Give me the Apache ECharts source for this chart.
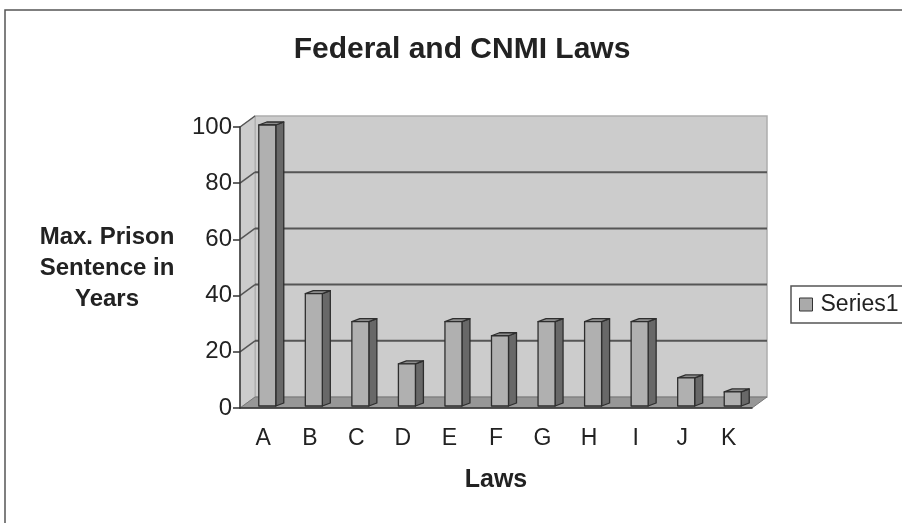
<!DOCTYPE html>
<html>
<head>
<meta charset="utf-8">
<script src="https://cdn.jsdelivr.net/npm/echarts@6/dist/echarts.min.js"></script>
<style>html,body{margin:0;padding:0;background:#fff;}#c{width:902px;height:523px;}</style>
</head>
<body>
<div id="c"></div>
<script>
const categories = ['A','B','C','D','E','F','G','H','I','J','K'];
const values = [100, 40, 30, 15, 30, 25, 30, 30, 30, 10, 5];
const yTicks = [0, 20, 40, 60, 80, 100];
const seriesName = 'Series1';
const chartTitle = 'Federal and CNMI Laws';
const yTitle = 'Max. Prison\nSentence in\nYears';
const xTitle = 'Laws';

const FONT = '"Liberation Sans", Arial, sans-serif';
const WALL_DX = 15, WALL_DY = -11;
const BAR_W = 17, BAR_DX = 8, BAR_DY = -3, BAR_SX = 4, BAR_SY = -2;

const chart = echarts.init(document.getElementById('c'), null, {renderer: 'canvas'});

function renderWalls(params, api) {
  const band = api.size([1, 0])[0];
  const x0 = api.coord([0, 0])[0] - band / 2;
  const x1 = api.coord([categories.length - 1, 0])[0] + band / 2;
  const y0 = api.coord([0, yTicks[0]])[1];
  const yT = api.coord([0, yTicks[yTicks.length - 1]])[1];
  const dx = WALL_DX, dy = WALL_DY;
  const children = [];
  children.push({type: 'polygon', shape: {points: [[x0+dx, yT+dy],[x1+dx, yT+dy],[x1+dx, y0+dy],[x0+dx, y0+dy]]},
    style: {fill: '#cccccc', stroke: '#adadad', lineWidth: 1.5}});
  children.push({type: 'polygon', shape: {points: [[x0, yT],[x0+dx, yT+dy],[x0+dx, y0+dy],[x0, y0]]},
    style: {fill: '#cccccc', stroke: '#adadad', lineWidth: 1}});
  children.push({type: 'polygon', shape: {points: [[x0, y0],[x1, y0],[x1+dx, y0+dy],[x0+dx, y0+dy]]},
    style: {fill: '#979797', stroke: '#777', lineWidth: 1}});
  yTicks.forEach(function (t, i) {
    if (i === 0) return;
    const y = api.coord([0, t])[1];
    if (t !== yTicks[yTicks.length - 1]) {
      children.push({type: 'line', shape: {x1: x0+dx, y1: y+dy, x2: x1+dx, y2: y+dy}, style: {stroke: '#555', lineWidth: 2}});
    }
    children.push({type: 'line', shape: {x1: x0, y1: y, x2: x0+dx, y2: y+dy}, style: {stroke: '#555', lineWidth: 1.5}});
  });
  return {type: 'group', children: children};
}

function renderBar(params, api) {
  const idx = api.value(0);
  const top = api.coord([idx, api.value(1)]);
  const base = api.coord([idx, 0]);
  const l = top[0] + BAR_SX - BAR_W / 2;
  const r = l + BAR_W;
  const t = top[1] + BAR_SY;
  const b = base[1] + BAR_SY;
  const st = {stroke: '#2e2e2e', lineWidth: 1.3, lineJoin: 'round'};
  return {type: 'group', children: [
    {type: 'polygon', shape: {points: [[r, t],[r+BAR_DX, t+BAR_DY],[r+BAR_DX, b+BAR_DY],[r, b]]}, style: Object.assign({fill: '#686868'}, st)},
    {type: 'polygon', shape: {points: [[l, t],[l+BAR_DX, t+BAR_DY],[r+BAR_DX, t+BAR_DY],[r, t]]}, style: Object.assign({fill: '#8c8c8c'}, st)},
    {type: 'rect', shape: {x: l, y: t, width: BAR_W, height: b - t}, style: Object.assign({fill: '#b0b0b0'}, st)}
  ]};
}

chart.setOption({
  backgroundColor: '#fff',
  animation: false,
  title: {
    text: chartTitle, left: 457, top: 30, textAlign: 'center',
    textStyle: {fontFamily: FONT, fontSize: 30, fontWeight: 'bold', color: '#222'}
  },
  graphic: [
    {type: 'rect', shape: {x: 5, y: 10, width: 1000, height: 700}, style: {fill: 'none', stroke: '#555', lineWidth: 1.5}, z: 100},
    {type: 'text', x: 107, y: 222, style: {text: yTitle, align: 'center', verticalAlign: 'top', lineHeight: 31,
      font: 'bold 24px ' + FONT, fill: '#222'}}
  ],
  legend: {
    data: [{name: seriesName, icon: 'rect', itemStyle: {color: '#aaaaaa', borderColor: '#333', borderWidth: 1}}],
    left: 791, top: 286,
    padding: [7, 20, 7, 8],
    borderColor: '#555', borderWidth: 1.5,
    itemWidth: 13, itemHeight: 13, itemGap: 5,
    textStyle: {fontFamily: FONT, fontSize: 23, color: '#222', padding: [0, 0, 0, 3]}
  },
  grid: {left: 240, right: 150, top: 127, bottom: 115, containLabel: false},
  xAxis: {
    type: 'category', data: categories, z: 10,
    name: xTitle, nameLocation: 'middle', nameGap: 60,
    nameTextStyle: {fontFamily: FONT, fontSize: 25, fontWeight: 'bold', color: '#222'},
    axisLine: {lineStyle: {color: '#333', width: 1.5}},
    axisTick: {length: 6, lineStyle: {color: '#333', width: 1.5}},
    axisLabel: {fontFamily: FONT, fontSize: 23, color: '#222', margin: 19}
  },
  yAxis: {
    type: 'value', min: 0, max: 100, interval: 20, z: 10,
    axisLine: {show: true, lineStyle: {color: '#333', width: 1.5}},
    axisTick: {show: true, length: 7, lineStyle: {color: '#333', width: 1.5}},
    axisLabel: {fontFamily: FONT, fontSize: 24, color: '#222', margin: 8},
    splitLine: {show: false}
  },
  series: [
    {type: 'custom', name: 'walls', renderItem: renderWalls, data: [[0, 0]], silent: true, z: 1},
    {type: 'custom', name: seriesName, renderItem: renderBar, itemStyle: {color: '#aaaaaa'},
      data: values.map(function (v, i) { return [i, v]; }), z: 3}
  ]
});
</script>
</body>
</html>
